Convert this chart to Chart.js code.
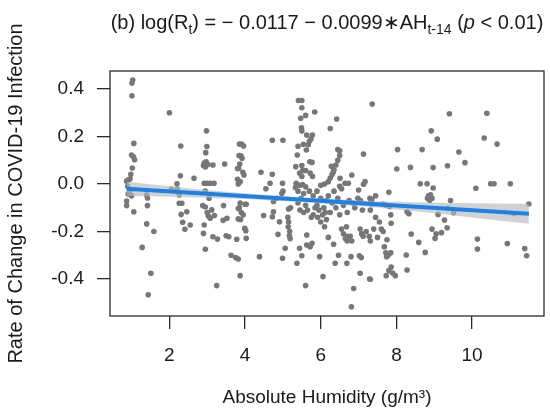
<!DOCTYPE html>
<html>
<head>
<meta charset="utf-8">
<script src="https://cdn.jsdelivr.net/npm/chart.js@4.4.1/dist/chart.umd.min.js"></script>
<style>
  html, body { margin: 0; padding: 0; background: #fff; }
</style>
</head>
<body>
<canvas id="graph" width="550" height="411"></canvas>
<script>
/* data: absolute humidity (g/m3) vs rate of change */
var humidity = [
  1.03, 1.01, 1.01, 1.06, 1.00, 1.05, 1.08, 1.02, 0.98, 0.87, 0.92, 0.96, 0.90, 0.91, 0.87, 0.87, 1.06, 0.95, 1.00,
  1.40, 1.42, 1.42, 1.40, 1.59, 1.28, 1.51, 1.44,
  2.00, 2.30, 2.29, 2.20, 2.06, 2.21, 2.26, 2.26, 2.33, 2.46, 2.31, 2.35, 2.55, 2.41, 2.65,
  2.98, 2.99, 2.96, 2.92, 2.97, 2.90, 3.02, 2.95, 3.15, 2.92, 3.00, 3.08, 3.18, 2.88, 2.95, 3.00, 3.03, 3.08,
  3.12, 3.19, 2.92, 2.90, 3.15, 3.27, 2.95, 3.25, 2.95, 3.05,
  3.46, 3.43, 3.52, 3.42, 3.50, 3.57, 3.78,
  3.85, 3.91, 3.96, 3.84, 3.89, 3.92, 3.86, 3.80, 3.83, 3.94, 3.97, 3.80, 3.87, 3.82, 3.82, 3.82, 3.87, 3.85,
  3.90, 3.88, 3.95, 4.00, 4.03, 3.99, 4.02, 4.03, 3.63, 3.75, 3.82, 3.87,
  4.42, 4.72, 4.66, 4.99, 4.72, 5.00, 4.49, 4.75, 4.72, 4.91, 4.87, 4.38, 4.99, 5.06, 4.84, 4.75, 4.97, 5.00, 4.55,
  5.15, 5.20, 5.13, 5.15, 5.14, 5.18, 5.17, 5.19, 5.34, 5.38, 5.41, 5.50, 5.50, 5.84, 5.60, 5.47, 6.42, 5.49,
  5.50, 6.25, 5.63, 5.78, 5.74, 5.70, 5.67, 5.54, 5.40, 5.62, 5.71, 5.77, 5.50, 5.52, 5.44, 5.50, 5.60, 5.72,
  5.78, 5.35, 5.45, 5.52, 5.60, 5.33, 5.40, 5.55, 5.48,
  6.00, 6.10, 6.20, 6.25, 6.30, 6.35, 6.40, 6.45, 6.50, 6.50, 6.45, 6.28, 6.33, 6.51, 6.64, 6.73, 6.82, 6.50,
  6.55, 7.13, 7.17, 7.13, 7.00, 7.36,
  5.44, 5.50, 5.37, 5.60, 5.63, 5.72, 5.77, 5.63, 5.40, 5.45, 5.55, 5.60, 5.65, 5.75, 5.80, 5.85, 5.90, 5.95,
  5.92, 6.00, 6.05, 6.08, 6.12, 6.15, 6.10, 5.97, 6.06, 6.20, 6.34, 6.47, 6.38, 6.69, 6.80, 7.02, 7.07, 7.04,
  7.29, 6.87, 6.81, 6.55, 6.60, 6.68, 6.72, 6.65, 6.70, 6.78, 6.82, 7.04, 7.08, 7.12, 7.20, 7.28, 6.85, 6.90,
  6.98, 7.05, 7.10, 7.30, 7.35, 7.45, 6.30, 6.40, 6.45, 6.50, 6.60, 6.70, 6.75, 6.20, 6.35, 6.25, 5.70, 5.80,
  5.90, 6.00, 6.15,
  9.40, 10.39, 8.92, 9.08, 10.32, 10.66, 8.03, 8.68, 9.65, 8.01, 8.37, 8.97, 9.35, 9.81, 8.63, 8.81, 8.97,
  10.10, 10.49, 10.58, 11.01, 7.80, 8.85, 8.82, 8.88, 8.94, 8.90, 9.43, 7.31, 7.38, 7.31, 7.45, 7.55, 7.65,
  7.72, 7.82, 7.85, 7.86, 8.28, 8.33, 7.40, 7.60, 7.65, 7.75, 7.50, 7.31, 7.68, 7.72, 7.74, 7.85, 7.78, 7.86,
  7.80, 7.73, 7.90, 7.97, 7.31, 8.26, 8.28, 8.39, 8.59, 8.76, 8.94, 9.05, 9.19, 9.02, 9.34, 9.27, 9.10, 9.36,
  9.51, 10.14, 10.14, 10.93, 11.10, 11.39, 11.44, 11.50
];
var rateChange = [
  0.438, 0.425, 0.372, 0.171, 0.122, 0.115, 0.102, 0.067, 0.041, 0.012, 0.018, 0.022, -0.010, -0.042, -0.072, -0.091, -0.117, -0.030, -0.050,
  -0.046, -0.059, -0.091, -0.168, -0.200, -0.267, -0.376, -0.467,
  0.300, 0.160, 0.035, 0.001, -0.021, -0.021, -0.046, -0.081, -0.081, -0.117, -0.128, -0.161, -0.173, -0.191, 0.024,
  0.224, 0.158, 0.132, 0.088, 0.094, 0.078, 0.082, 0.072, 0.080, 0.003, 0.003, 0.003, 0.003, -0.091, -0.097, -0.120, -0.135, -0.144,
  -0.109, -0.133, -0.173, -0.208, -0.222, -0.232, -0.275, -0.428, -0.030, -0.060,
  0.084, -0.091, -0.144, -0.153, -0.218, -0.222, -0.233,
  0.168, 0.168, 0.160, 0.120, 0.119, 0.108, 0.084, 0.065, 0.066, 0.049, 0.038, 0.020, 0.010, 0.000, -0.103, -0.147, -0.080, -0.100,
  -0.120, -0.150, -0.130, -0.085, -0.085, -0.187, -0.197, -0.229, -0.300, -0.310, -0.316, -0.386,
  0.049, 0.041, 0.003, 0.003, 0.184, 0.184, -0.133, -0.117, -0.138, -0.159, -0.212, -0.306, -0.313, -0.271, -0.060, -0.074, -0.040, -0.030, -0.020,
  -0.105, -0.100, -0.140, -0.160, -0.180, -0.200, -0.218, -0.230, 0.073, 0.122, 0.352, 0.352, 0.321, 0.303, 0.289, 0.277, 0.274, 0.237,
  0.223, 0.234, 0.206, 0.206, 0.190, 0.180, 0.165, 0.167, 0.159, 0.143, 0.094, 0.091, 0.078, 0.057, 0.046, 0.032, 0.057, 0.046,
  0.032, 0.003, -0.005, -0.002, -0.012, -0.015, -0.030, -0.040, -0.060,
  -0.005, 0.000, 0.010, 0.025, 0.040, 0.060, 0.080, 0.100, 0.120, 0.140, 0.145, 0.075, 0.050, 0.024, 0.003, 0.003, 0.038, -0.010,
  -0.020, 0.126, 0.010, -0.001, -0.025, 0.337,
  -0.271, -0.302, -0.334, -0.428, -0.257, -0.264, -0.250, -0.215, -0.080, -0.110, -0.120, -0.090, -0.110, -0.140, -0.130, -0.100, -0.090, -0.110,
  -0.140, -0.160, -0.130, -0.100, -0.120, -0.150, -0.180, -0.306, -0.390, -0.225, -0.254, -0.300, -0.334, -0.334, -0.306, -0.302, -0.310, -0.376,
  -0.400, -0.440, -0.517, -0.190, -0.210, -0.180, -0.220, -0.230, -0.240, -0.220, -0.240, -0.190, -0.210, -0.220, -0.200, -0.220, -0.080, -0.100,
  -0.060, -0.070, -0.110, -0.060, -0.065, -0.050, -0.080, -0.100, -0.060, -0.130, -0.090, -0.120, -0.070, -0.050, -0.030, -0.120, -0.030, -0.050,
  -0.030, -0.060, -0.070,
  0.296, 0.298, 0.224, 0.189, 0.194, 0.168, 0.145, 0.145, 0.135, 0.063, 0.070, 0.069, 0.077, 0.090, 0.001, 0.001, -0.017,
  -0.018, 0.001, 0.001, 0.001, -0.035, -0.050, -0.060, -0.070, -0.060, -0.045, -0.070, -0.080, -0.085, -0.110, -0.140, -0.160, -0.085,
  -0.090, -0.095, -0.130, -0.165, -0.117, -0.125, -0.190, -0.190, -0.200, -0.235, -0.225, -0.240, -0.264, -0.290, -0.306, -0.290, -0.300, -0.350,
  -0.365, -0.386, -0.375, -0.386, -0.401, -0.299, -0.362, -0.211, -0.246, -0.288, -0.190, -0.210, -0.205, -0.229, -0.184, -0.152, -0.128, -0.103,
  -0.121, -0.232, -0.274, -0.251, -0.124, -0.272, -0.302, -0.084
];

/* fitted line and its confidence band */
var fitX = [0.87, 11.5];
var fitY = [-0.0203, -0.1256];
var bandX = [0.87, 2, 3, 4, 5, 6, 7, 8, 9, 10, 11.5];
var bandHigh = [0.0097, -0.0095, -0.0254, -0.0393, -0.0512, -0.0611, -0.069, -0.0749, -0.0788, -0.0807, -0.0836];
var bandLow = [-0.0503, -0.0535, -0.0574, -0.0633, -0.0712, -0.0811, -0.093, -0.1069, -0.1228, -0.1407, -0.1676];

var xTicks = [2, 4, 6, 8, 10];
var yTicks = [-0.4, -0.2, 0, 0.2, 0.4];

var FONT = "'Liberation Sans', Arial, sans-serif";

function pairs(xs, ys) {
  return xs.map(function (x, i) { return { x: x, y: ys[i] }; });
}

/* box around the plot and the equation title (has subscripts) */
var framePlugin = {
  id: 'frame',
  afterDraw: function (chart) {
    var ctx = chart.ctx, a = chart.chartArea;
    ctx.save();
    ctx.strokeStyle = '#2b2b2b';
    ctx.lineWidth = 1.3;
    ctx.strokeRect(a.left, a.top, a.right - a.left, a.bottom - a.top);

    var parts = [
      { t: '(b) log(R' },
      { t: 't', sub: true },
      { t: ') = \u2212 0.0117 \u2212 0.0099\u2217AH' },
      { t: 't-14', sub: true },
      { t: ' (' },
      { t: 'p', it: true },
      { t: ' < 0.01)' }
    ];
    function setFont(p) {
      var size = p.sub ? 14 : 20;
      ctx.font = (p.it ? 'italic ' : '') + size + 'px ' + FONT;
    }
    var total = 0;
    parts.forEach(function (p) { setFont(p); total += ctx.measureText(p.t).width; });
    var x = (a.left + a.right) / 2 - total / 2;
    var base = 29;
    ctx.fillStyle = '#1a1a1a';
    ctx.textBaseline = 'alphabetic';
    ctx.textAlign = 'left';
    parts.forEach(function (p) {
      setFont(p);
      ctx.fillText(p.t, x, p.sub ? base + 5 : base);
      x += ctx.measureText(p.t).width;
    });
    ctx.restore();
  }
};

var ctx = document.getElementById('graph');
var myChart = new Chart(ctx, {
  type: 'scatter',
  data: {
    datasets: [{
      label: 'points',
      data: pairs(humidity, rateChange),
      pointRadius: 2.8,
      pointBackgroundColor: '#777777',
      pointBorderWidth: 0,
      order: 3
    }, {
      type: 'line',
      label: 'low',
      data: pairs(bandX, bandLow),
      borderWidth: 0,
      pointRadius: 0,
      cubicInterpolationMode: 'monotone',
      fill: false,
      order: 2
    }, {
      type: 'line',
      label: 'high',
      data: pairs(bandX, bandHigh),
      borderWidth: 0,
      pointRadius: 0,
      cubicInterpolationMode: 'monotone',
      backgroundColor: 'rgba(185,185,185,0.65)',
      fill: '-1',
      order: 1
    }, {
      type: 'line',
      label: 'fit',
      data: pairs(fitX, fitY),
      borderColor: '#1b80e8',
      borderWidth: 4,
      pointRadius: 0,
      fill: false,
      order: 0
    }]
  },
  options: {
    responsive: false,
    animation: false,
    layout: { padding: { left: 0, right: 6, top: 71, bottom: 0 } },
    plugins: { legend: { display: false }, tooltip: { enabled: false } },
    scales: {
      x: {
        type: 'linear',
        min: 0.43,
        max: 11.9,
        afterBuildTicks: function (s) { s.ticks = xTicks.map(function (v) { return { value: v }; }); },
        afterFit: function (s) { s.height = 95; },
        border: { display: false },
        grid: { drawOnChartArea: false, drawTicks: true, tickLength: 13, color: '#2b2b2b', lineWidth: 1.3 },
        ticks: { color: '#1a1a1a', padding: 15, maxRotation: 0, font: { family: FONT, size: 19 } },
        title: {
          display: true,
          text: 'Absolute Humidity (g/m\u00b3)',
          color: '#1a1a1a',
          font: { family: FONT, size: 19 },
          padding: { top: 0, bottom: 2 }
        }
      },
      y: {
        type: 'linear',
        min: -0.556,
        max: 0.476,
        afterBuildTicks: function (s) { s.ticks = yTicks.map(function (v) { return { value: v }; }); },
        afterFit: function (s) { s.width = 110; },
        border: { display: false },
        grid: { drawOnChartArea: false, drawTicks: true, tickLength: 13, color: '#2b2b2b', lineWidth: 1.3 },
        ticks: {
          color: '#1a1a1a',
          padding: 13,
          font: { family: FONT, size: 19 },
          callback: function (v) { return v.toFixed(1); }
        },
        title: {
          display: true,
          text: 'Rate of Change in COVID-19 Infection',
          color: '#1a1a1a',
          font: { family: FONT, size: 20 },
          padding: { top: 4, bottom: 0 }
        }
      }
    }
  },
  plugins: [framePlugin]
});
</script>
</body>
</html>
